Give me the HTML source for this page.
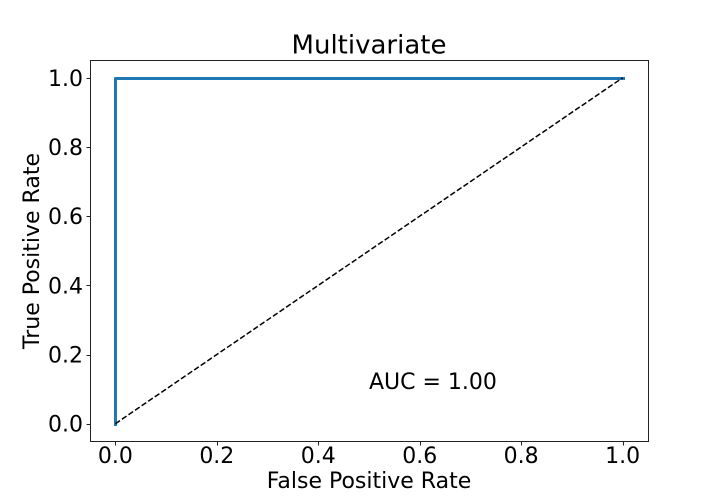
<!DOCTYPE html>
<html>
<head>
<meta charset="utf-8">
<title>Multivariate ROC</title>
<style>
html,body{margin:0;padding:0;background:#fff;}
svg{display:block;}
text{font-family:"DejaVu Sans","Liberation Sans",sans-serif;fill:#000;}
</style>
</head>
<body>
<svg id="chart" xmlns="http://www.w3.org/2000/svg" width="720" height="504" viewBox="0 0 720 504">
  <rect x="90.5" y="60.5" width="558" height="381" fill="#fff"/>
  <g id="marks"></g>
  <g id="ticks"></g>
  <rect x="90.5" y="60.5" width="558" height="381" fill="none" stroke="#222" stroke-width="1"/>
  <text x="369" y="53.5" font-size="26" text-anchor="middle">Multivariate</text>
  <text x="369" y="488" font-size="22" text-anchor="middle">False Positive Rate</text>
  <text transform="translate(39 251) rotate(-90)" font-size="22" text-anchor="middle">True Positive Rate</text>
  <text id="auc" font-size="22">AUC = 1.00</text>
</svg>
<script>
const fprValues = [0, 0, 1];
const tprValues = [0, 1, 1];
const chanceX = [0, 1];
const chanceY = [0, 1];
const xTickLabels = ["0.0", "0.2", "0.4", "0.6", "0.8", "1.0"];
const yTickLabels = ["0.0", "0.2", "0.4", "0.6", "0.8", "1.0"];
const aucPosition = [0.5, 0.1];

const NS = "http://www.w3.org/2000/svg";
function xScale(v) { return 115.36 + v * 507.27; }
function yScale(v) { return 423.7 - v * 345.9; }
function snap(v) { return Math.floor(v + 0.5) + 0.5; }
function snappedPath(xs, ys) {
  return xs.map(function (x, i) {
    return (i ? "L" : "M") + snap(xScale(x)) + " " + snap(yScale(ys[i]));
  }).join(" ");
}
function plainPath(xs, ys) {
  return xs.map(function (x, i) {
    return (i ? "L" : "M") + xScale(x).toFixed(2) + " " + yScale(ys[i]).toFixed(2);
  }).join(" ");
}

const marks = document.getElementById("marks");
const ticks = document.getElementById("ticks");

const rocLine = document.createElementNS(NS, "path");


rocLine.setAttribute("d", snappedPath(fprValues, tprValues));
rocLine.setAttribute("fill", "none");
rocLine.setAttribute("stroke", "#1f77b4");
rocLine.setAttribute("stroke-width", "3");
rocLine.setAttribute("stroke-linecap", "square");
rocLine.setAttribute("stroke-linejoin", "round");
marks.appendChild(rocLine);

const chanceLine = document.createElementNS(NS, "path");


chanceLine.setAttribute("d", plainPath(chanceX, chanceY));
chanceLine.setAttribute("fill", "none");
chanceLine.setAttribute("stroke", "#000");
chanceLine.setAttribute("stroke-width", "1.5");
chanceLine.setAttribute("stroke-dasharray", "5.55 2.4");
marks.appendChild(chanceLine);

xTickLabels.forEach(function (label) {
  const x = xScale(parseFloat(label));
  const tick = document.createElementNS(NS, "line");
  
  
  tick.setAttribute("x1", snap(x));
  tick.setAttribute("x2", snap(x));
  tick.setAttribute("y1", 442);
  tick.setAttribute("y2", 445.5);
  tick.setAttribute("stroke", "#222");
  tick.setAttribute("stroke-width", "1");
  ticks.appendChild(tick);
  const text = document.createElementNS(NS, "text");
  
  
  text.setAttribute("x", x);
  text.setAttribute("y", 463);
  text.setAttribute("font-size", "22");
  text.setAttribute("text-anchor", "middle");
  text.textContent = label;
  ticks.appendChild(text);
});

yTickLabels.forEach(function (label) {
  const y = yScale(parseFloat(label));
  const tick = document.createElementNS(NS, "line");
  
  
  tick.setAttribute("x1", 86.5);
  tick.setAttribute("x2", 90);
  tick.setAttribute("y1", snap(y));
  tick.setAttribute("y2", snap(y));
  tick.setAttribute("stroke", "#222");
  tick.setAttribute("stroke-width", "1");
  ticks.appendChild(tick);
  const text = document.createElementNS(NS, "text");
  
  
  text.setAttribute("x", 83);
  text.setAttribute("y", y + 8);
  text.setAttribute("font-size", "22");
  text.setAttribute("text-anchor", "end");
  text.textContent = label;
  ticks.appendChild(text);
});

const auc = document.getElementById("auc");
auc.setAttribute("x", xScale(aucPosition[0]));
auc.setAttribute("y", yScale(aucPosition[1]));
</script>
</body>
</html>
